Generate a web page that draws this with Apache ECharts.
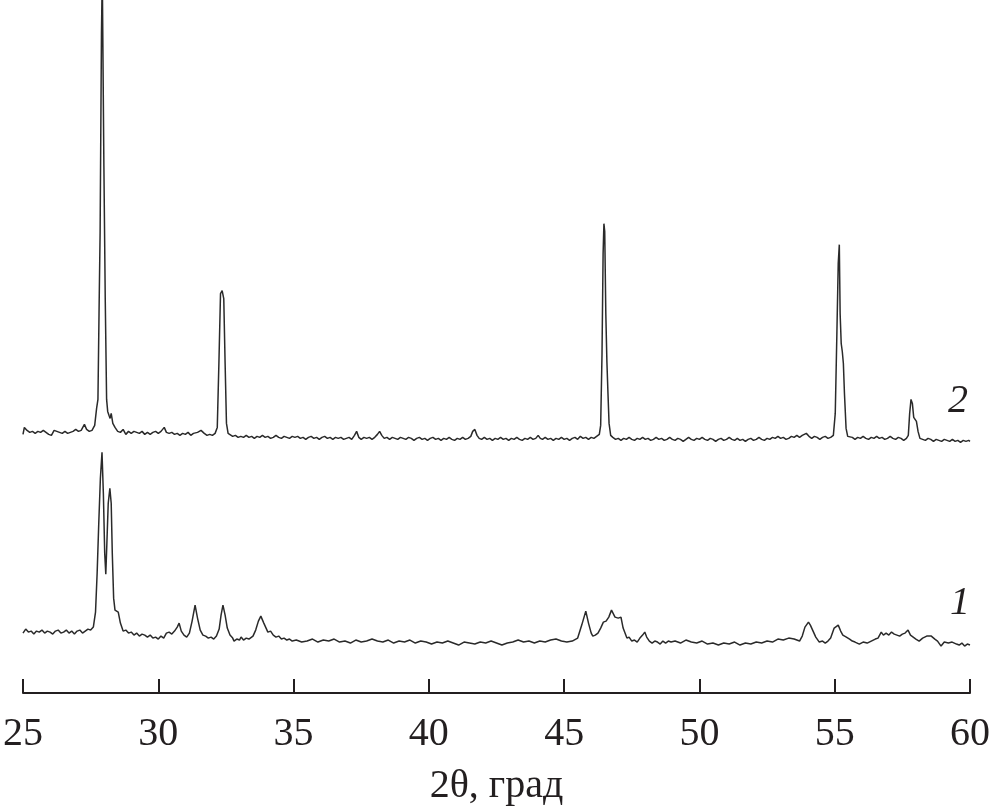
<!DOCTYPE html>
<html>
<head>
<meta charset="utf-8">
<script src="https://cdn.jsdelivr.net/npm/echarts@6/dist/echarts.min.js"></script>
<style>
html,body{margin:0;padding:0;background:#fff;}
#chart{width:994px;height:811px;}
</style>
</head>
<body>
<div id="chart"></div>
<script>
// 2θ (deg) and intensity (a.u., curves shown with their vertical offset)
const xTicks = [25, 30, 35, 40, 45, 50, 55, 60];
const xTitle = '2θ, град';
const curveLabels = ['1', '2'];

const curve1 = [
[25.0,60],[25.1,64],[25.2,61],[25.3,62],[25.4,59],[25.5,62],[25.6,61],[25.7,63],[25.8,60],[25.9,62],
[26.0,61],[26.1,59],[26.2,62],[26.3,63],[26.4,60],[26.5,61],[26.6,63],[26.7,60],[26.8,62],[26.9,59],
[27.0,62],[27.1,63],[27.2,60],[27.3,62],[27.4,64],[27.5,63],[27.6,66],[27.68,81],[27.74,120],[27.8,170],
[27.86,215],[27.92,241],[27.97,200],[28.02,140],[28.06,119],[28.1,150],[28.15,190],[28.21,205],[28.26,190],[28.3,140],
[28.35,95],[28.4,83],[28.45,82],[28.52,81],[28.6,70],[28.7,62],[28.8,63],[28.9,60],[29.0,61],[29.1,58],
[29.2,60],[29.3,57],[29.4,59],[29.5,58],[29.6,56],[29.7,58],[29.8,55],[29.9,56],[30.0,54],[30.1,57],
[30.2,55],[30.3,60],[30.4,61],[30.5,59],[30.6,62],[30.7,66],[30.77,70],[30.85,62],[30.95,58],[31.05,56],
[31.15,60],[31.25,72],[31.36,88],[31.45,75],[31.55,63],[31.65,58],[31.75,57],[31.85,55],[31.95,56],[32.05,54],
[32.15,57],[32.25,64],[32.32,78],[32.39,88],[32.47,78],[32.55,65],[32.65,58],[32.75,55],[32.8,52],[32.9,54],
[33.0,53],[33.06,56],[33.15,53],[33.25,55],[33.35,54],[33.5,57],[33.6,63],[33.7,72],[33.79,77],[33.9,70],
[34.0,64],[34.05,61],[34.15,62],[34.25,58],[34.35,56],[34.45,57],[34.55,54],[34.65,55],[34.75,53],[34.85,54],
[34.95,52],[35.1,53],[35.3,51],[35.5,52],[35.7,54],[35.9,51],[36.1,53],[36.3,52],[36.5,54],[36.7,51],
[36.9,52],[37.1,50],[37.3,53],[37.5,51],[37.7,52],[37.9,54],[38.1,52],[38.3,51],[38.5,53],[38.7,50],
[38.9,52],[39.1,51],[39.3,53],[39.5,50],[39.7,52],[39.9,51],[40.1,49],[40.3,51],[40.5,50],[40.7,52],
[40.9,50],[41.1,48],[41.3,51],[41.5,50],[41.7,49],[41.9,51],[42.1,50],[42.3,52],[42.5,50],[42.7,48],
[42.9,50],[43.1,51],[43.3,53],[43.5,51],[43.7,52],[43.9,50],[44.1,52],[44.3,51],[44.5,53],[44.7,54],
[44.9,52],[45.1,51],[45.3,52],[45.5,55],[45.65,68],[45.8,82],[45.9,70],[46.0,60],[46.06,57],[46.15,58],
[46.25,60],[46.35,65],[46.45,71],[46.55,72],[46.65,76],[46.75,83],[46.8,85],[46.88,76],[46.95,74],[47.0,75],
[47.1,76],[47.18,65],[47.25,60],[47.32,55],[47.4,56],[47.5,52],[47.6,53],[47.7,51],[47.8,55],[47.9,58],
[47.98,61],[48.05,56],[48.15,52],[48.25,50],[48.35,52],[48.45,51],[48.55,49],[48.65,52],[48.75,50],[48.85,52],
[48.95,51],[49.1,52],[49.3,50],[49.5,53],[49.7,51],[49.9,50],[50.1,52],[50.3,49],[50.5,50],[50.7,48],
[50.9,50],[51.1,49],[51.3,51],[51.5,48],[51.7,50],[51.9,49],[52.1,51],[52.3,50],[52.5,52],[52.7,51],
[52.9,54],[53.1,53],[53.3,55],[53.5,54],[53.7,52],[53.8,57],[53.9,66],[54.03,71],[54.1,68],[54.2,62],
[54.3,56],[54.43,51],[54.55,52],[54.65,50],[54.75,52],[54.85,55],[54.98,65],[55.05,64],[55.13,68],[55.22,62],
[55.3,58],[55.43,56],[55.55,54],[55.65,52],[55.75,51],[55.91,49],[56.05,51],[56.2,50],[56.35,52],[56.5,54],
[56.6,55],[56.72,61],[56.8,58],[56.9,60],[57.0,58],[57.1,61],[57.2,59],[57.27,61],[57.4,57],[57.5,59],
[57.6,60],[57.71,63],[57.8,58],[57.9,56],[58.0,54],[58.12,52],[58.25,55],[58.4,57],[58.57,57],[58.7,54],
[58.8,52],[58.93,47],[59.05,51],[59.2,50],[59.34,51],[59.5,49],[59.6,48],[59.7,50],[59.8,47],[59.9,49],[60.0,48]
];

const curve2 = [
[25.0,259],[25.05,266],[25.15,263],[25.25,261],[25.35,262],[25.45,260],[25.55,262],[25.65,261],[25.75,263],[25.85,261],
[25.95,259],[26.05,258],[26.15,263],[26.25,262],[26.35,261],[26.45,260],[26.55,262],[26.65,260],[26.75,261],[26.85,262],
[26.95,264],[27.05,262],[27.15,263],[27.27,269],[27.35,264],[27.45,262],[27.55,263],[27.65,268],[27.72,285],[27.77,294],
[27.81,380],[27.85,461],[27.9,661],[27.93,720],[27.96,720],[27.99,527],[28.04,394],[28.09,294],[28.13,282],[28.18,278],
[28.22,275],[28.26,280],[28.32,270],[28.4,266],[28.5,262],[28.6,261],[28.7,264],[28.8,259],[28.9,262],[29.0,260],
[29.1,262],[29.2,261],[29.3,260],[29.4,262],[29.5,259],[29.6,261],[29.7,259],[29.8,261],[29.9,262],[30.0,260],
[30.1,262],[30.22,266],[30.3,261],[30.4,260],[30.5,261],[30.6,259],[30.7,260],[30.8,258],[30.9,260],[31.0,259],
[31.1,261],[31.2,258],[31.3,260],[31.45,261],[31.58,263],[31.7,260],[31.8,258],[31.9,259],[32.0,258],[32.1,260],
[32.18,266],[32.24,330],[32.3,400],[32.36,403],[32.42,395],[32.47,330],[32.52,270],[32.58,260],[32.65,258],[32.75,257],
[32.85,258],[32.95,256],[33.05,257],[33.15,256],[33.25,258],[33.35,256],[33.45,257],[33.55,255],[33.65,257],[33.75,256],
[33.85,258],[33.95,256],[34.05,257],[34.15,255],[34.25,256],[34.35,258],[34.45,256],[34.55,255],[34.65,257],[34.75,256],
[34.85,255],[34.95,257],[35.05,256],[35.15,257],[35.25,255],[35.35,256],[35.45,254],[35.55,256],[35.65,257],[35.75,255],
[35.85,256],[35.95,254],[36.05,256],[36.15,257],[36.25,255],[36.35,256],[36.45,254],[36.55,256],[36.65,255],[36.75,256],
[36.85,254],[36.95,255],[37.05,256],[37.15,254],[37.25,258],[37.33,262],[37.41,256],[37.5,254],[37.6,256],[37.7,255],
[37.8,256],[37.9,254],[38.0,256],[38.1,259],[38.18,262],[38.26,258],[38.35,255],[38.45,256],[38.55,254],[38.65,256],
[38.75,255],[38.85,254],[38.95,256],[39.05,255],[39.15,254],[39.25,256],[39.35,255],[39.45,253],[39.55,255],[39.65,256],
[39.75,254],[39.85,255],[39.95,253],[40.05,255],[40.15,256],[40.25,254],[40.35,255],[40.45,253],[40.55,255],[40.65,254],
[40.75,256],[40.85,254],[40.95,253],[41.05,255],[41.15,254],[41.25,256],[41.35,254],[41.45,255],[41.55,257],[41.62,262],
[41.7,264],[41.78,258],[41.86,255],[41.95,254],[42.05,256],[42.15,254],[42.25,255],[42.35,253],[42.45,255],[42.55,254],
[42.65,256],[42.75,254],[42.85,255],[42.95,253],[43.05,255],[43.15,254],[43.25,256],[43.35,254],[43.45,253],[43.55,255],
[43.65,254],[43.75,256],[43.85,254],[43.95,255],[44.04,258],[44.12,255],[44.2,254],[44.3,256],[44.4,254],[44.5,255],
[44.6,253],[44.7,255],[44.8,254],[44.9,256],[45.0,254],[45.1,255],[45.2,253],[45.3,255],[45.4,256],[45.5,254],
[45.6,257],[45.7,255],[45.8,256],[45.9,254],[46.0,256],[46.1,255],[46.2,257],[46.3,259],[46.35,268],[46.4,340],
[46.44,440],[46.47,470],[46.5,462],[46.54,380],[46.58,332],[46.62,300],[46.66,270],[46.72,258],[46.8,256],[46.9,254],
[47.0,255],[47.1,253],[47.2,255],[47.3,254],[47.4,256],[47.5,254],[47.6,253],[47.7,255],[47.8,254],[47.9,256],
[48.0,254],[48.1,255],[48.2,253],[48.3,254],[48.4,256],[48.5,254],[48.6,255],[48.7,253],[48.8,254],[48.9,256],
[49.0,254],[49.1,253],[49.2,255],[49.3,254],[49.4,252],[49.5,254],[49.6,256],[49.7,254],[49.8,253],[49.9,255],
[50.0,254],[50.1,256],[50.2,254],[50.3,253],[50.4,255],[50.5,254],[50.6,252],[50.7,254],[50.8,255],[50.9,253],
[51.0,254],[51.1,256],[51.2,254],[51.3,253],[51.4,255],[51.5,253],[51.6,254],[51.7,252],[51.8,254],[51.9,255],
[52.0,253],[52.1,254],[52.2,256],[52.3,254],[52.4,253],[52.5,255],[52.6,254],[52.7,256],[52.8,255],[52.9,257],
[53.0,255],[53.1,256],[53.2,254],[53.3,255],[53.4,257],[53.5,256],[53.6,258],[53.7,256],[53.8,258],[53.95,260],
[54.05,257],[54.15,255],[54.25,257],[54.35,256],[54.45,254],[54.55,256],[54.65,257],[54.75,255],[54.85,256],[54.95,258],
[55.02,280],[55.08,360],[55.13,430],[55.17,449],[55.2,380],[55.24,350],[55.28,342],[55.32,330],[55.36,300],[55.42,265],
[55.48,257],[55.55,255],[55.65,256],[55.75,254],[55.85,256],[55.95,255],[56.05,257],[56.15,255],[56.25,254],[56.35,256],
[56.45,255],[56.55,257],[56.65,255],[56.75,256],[56.85,254],[56.95,255],[57.05,257],[57.15,255],[57.25,254],[57.35,256],
[57.45,255],[57.55,253],[57.65,255],[57.72,258],[57.77,280],[57.82,294],[57.87,290],[57.92,276],[57.97,278],[58.02,272],
[58.08,262],[58.15,255],[58.25,254],[58.35,253],[58.45,255],[58.55,254],[58.65,252],[58.75,254],[58.85,253],[58.95,252],
[59.05,254],[59.15,253],[59.25,252],[59.35,254],[59.45,252],[59.55,253],[59.65,251],[59.75,253],[59.85,252],[59.95,253],[60.0,252]
];

const chart = echarts.init(document.getElementById('chart'));
const serif = '"Liberation Serif", "DejaVu Serif", serif';
const lineColor = '#2a2a2a';
chart.setOption({
  animation: false,
  backgroundColor: '#ffffff',
  grid: {left: 21.5, right: 24, top: 0, bottom: 117, containLabel: false},
  xAxis: {
    type: 'value',
    min: xTicks[0], max: xTicks[xTicks.length - 1], interval: 5,
    name: xTitle, nameLocation: 'middle', nameGap: 73,
    nameTextStyle: {fontFamily: serif, fontSize: 40, color: '#231f20'},
    axisLine: {show: true, onZero: false, lineStyle: {color: '#231f20', width: 2}},
    axisTick: {show: true, inside: true, length: 14, lineStyle: {color: '#231f20', width: 2}},
    axisLabel: {fontFamily: serif, fontSize: 40, color: '#231f20', margin: 21},
    splitLine: {show: false}
  },
  yAxis: {type: 'value', min: 0, max: 694, show: false, splitLine: {show: false}},
  series: [
    {name: curveLabels[0], type: 'line', data: curve1, showSymbol: false, symbol: 'none',
     lineStyle: {color: lineColor, width: 1.5}, clip: true},
    {name: curveLabels[1], type: 'line', data: curve2, showSymbol: false, symbol: 'none',
     lineStyle: {color: lineColor, width: 1.5}, clip: true}
  ],
  graphic: [
    {type: 'text', x: 958, y: 401, style: {text: curveLabels[1], font: 'italic 40px ' + serif, fill: '#231f20', textAlign: 'center', textVerticalAlign: 'middle'}},
    {type: 'text', x: 960, y: 603, style: {text: curveLabels[0], font: 'italic 40px ' + serif, fill: '#231f20', textAlign: 'center', textVerticalAlign: 'middle'}}
  ]
});
</script>
</body>
</html>
